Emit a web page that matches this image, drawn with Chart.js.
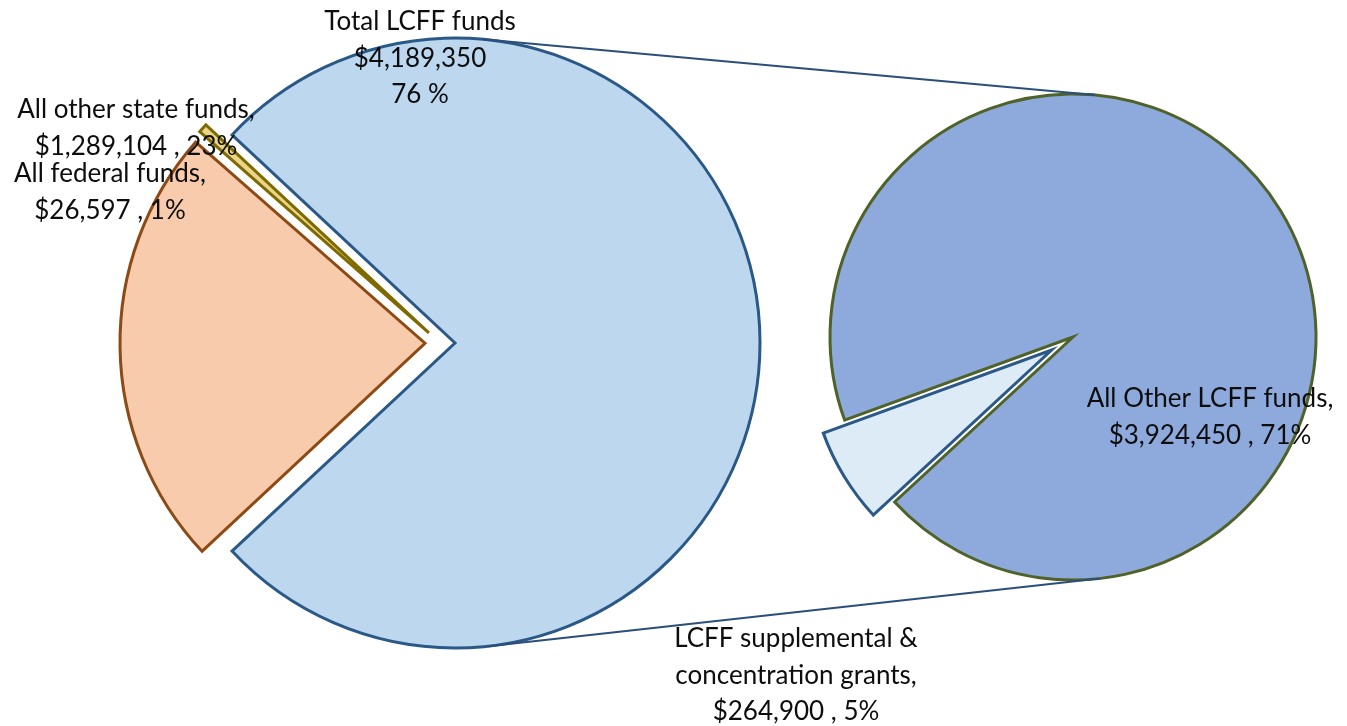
<!DOCTYPE html>
<html>
<head>
<meta charset="utf-8">
<title>LCFF funds</title>
<script src="https://cdn.jsdelivr.net/npm/chart.js@4.4.1/dist/chart.umd.min.js"></script>
<style>
  html, body { margin: 0; padding: 0; background: #fff; }
  #wrap { position: relative; width: 1347px; height: 726px; }
  #wrap canvas { position: absolute; left: 0; top: 0; }
</style>
</head>
<body>
<div id="wrap">
  <canvas id="leftPie" width="1347" height="726"></canvas>
  <canvas id="rightPie" width="1347" height="726"></canvas>
</div>
<script>
// all revenue (first pie)
const leftLabels = ['Total LCFF funds', 'All other state funds', 'All federal funds'];
const leftValues = [4189350, 1289104, 26597];
const leftPct = [76, 23, 1];

// LCFF split (second pie)
const rightLabels = ['All Other LCFF funds', 'LCFF supplemental & concentration grants'];
const rightValues = [3924450, 264900];
const rightPct = [71, 5];

const money = v => '$' + v.toLocaleString('en-US');

// label text, built from the arrays above
const leftText = [
  [leftLabels[0], money(leftValues[0]), leftPct[0] + ' %'],
  [leftLabels[1] + ',', money(leftValues[1]) + ' , ' + leftPct[1] + '%'],
  [leftLabels[2] + ',', money(leftValues[2]) + ' , ' + leftPct[2] + '%']
];
const rightText = [
  [rightLabels[0] + ',', money(rightValues[0]) + ' , ' + rightPct[0] + '%'],
  ['LCFF supplemental &', 'concentration grants,', money(rightValues[1]) + ' , ' + rightPct[1] + '%']
];

// where the label blocks sit (centre x, first baseline)
const leftSpots = [[420, 30], [136, 118], [110, 182]];
const rightSpots = [[1210, 407], [796, 647]];
const lineGap = 36.5;
const font = '26px Lato';

const explodeLeft = [15, 15, 15];
const explodeRight = [0, 25];

// draw each slice pushed out along its middle angle
const explodePlugin = {
  id: 'explode',
  beforeDatasetDraw(chart, args, opts) {
    const ctx = chart.ctx;
    const amounts = opts.amounts || [];
    args.meta.data.forEach((arc, i) => {
      const d = amounts[i] || 0;
      const mid = (arc.startAngle + arc.endAngle) / 2;
      ctx.save();
      ctx.translate(Math.cos(mid) * d, Math.sin(mid) * d);
      arc.draw(ctx);
      ctx.restore();
    });
    return false;
  }
};

function drawLabels(ctx, texts, spots) {
  ctx.save();
  ctx.font = font;
  ctx.fillStyle = '#0d0d0d';
  ctx.textAlign = 'center';
  ctx.textBaseline = 'alphabetic';
  texts.forEach((lines, i) => {
    lines.forEach((t, j) => ctx.fillText(t, spots[i][0], spots[i][1] + j * lineGap));
  });
  ctx.restore();
}

const leftTotal = leftValues.reduce((a, b) => a + b, 0);

const leftChart = new Chart(document.getElementById('leftPie'), {
  type: 'pie',
  data: {
    labels: leftLabels,
    datasets: [{
      data: leftValues,
      backgroundColor: ['#BDD7EE', '#F8CBAD', '#EAD68A'],
      borderColor: ['#2B5987', '#8C4A14', '#7F6A00'],
      borderWidth: 3,
      borderJoinStyle: 'miter'
    }]
  },
  options: {
    responsive: false,
    animation: false,
    devicePixelRatio: 1,
    events: [],
    radius: 305,
    // big slice centred on the right hand side
    rotation: 90 - leftValues[0] / leftTotal * 180,
    layout: { padding: { left: 0, right: 467, top: 0, bottom: 40 } },
    plugins: {
      legend: { display: false },
      tooltip: { enabled: false },
      explode: { amounts: explodeLeft }
    }
  },
  plugins: [explodePlugin]
});

// connector lines + all text on the top canvas
const overlayPlugin = {
  id: 'overlay',
  afterDraw(chart) {
    const ctx = chart.ctx;
    const la = leftChart.getDatasetMeta(0).data[0];
    const lm = (la.startAngle + la.endAngle) / 2;
    const c1 = { x: la.x + Math.cos(lm) * explodeLeft[0], y: la.y + Math.sin(lm) * explodeLeft[0], r: la.outerRadius };
    const ra = chart.getDatasetMeta(0).data[0];
    const c2 = { x: ra.x, y: ra.y, r: ra.outerRadius };
    const base = Math.atan2(c2.y - c1.y, c2.x - c1.x);
    const d = Math.hypot(c2.x - c1.x, c2.y - c1.y);
    const a = Math.acos((c1.r - c2.r) / d);
    ctx.save();
    ctx.strokeStyle = '#2B4F7A';
    ctx.lineWidth = 2;
    [base - a, base + a].forEach(t => {
      ctx.beginPath();
      ctx.moveTo(c1.x + Math.cos(t) * c1.r, c1.y + Math.sin(t) * c1.r);
      ctx.lineTo(c2.x + Math.cos(t) * c2.r, c2.y + Math.sin(t) * c2.r);
      ctx.stroke();
    });
    ctx.restore();
    drawLabels(ctx, leftText, leftSpots);
    drawLabels(ctx, rightText, rightSpots);
  }
};

const rightChart = new Chart(document.getElementById('rightPie'), {
  type: 'pie',
  data: {
    labels: rightLabels,
    datasets: [{
      data: rightValues,
      backgroundColor: ['#8EA9DB', '#DDEBF7'],
      borderColor: ['#4F6228', '#2B5987'],
      borderWidth: 3,
      borderJoinStyle: 'miter'
    }]
  },
  options: {
    responsive: false,
    animation: false,
    devicePixelRatio: 1,
    events: [],
    radius: 243,
    rotation: 250,
    layout: { padding: { left: 799, right: 0, top: 0, bottom: 52 } },
    plugins: {
      legend: { display: false },
      tooltip: { enabled: false },
      explode: { amounts: explodeRight }
    }
  },
  plugins: [explodePlugin, overlayPlugin]
});
</script>
</body>
</html>
